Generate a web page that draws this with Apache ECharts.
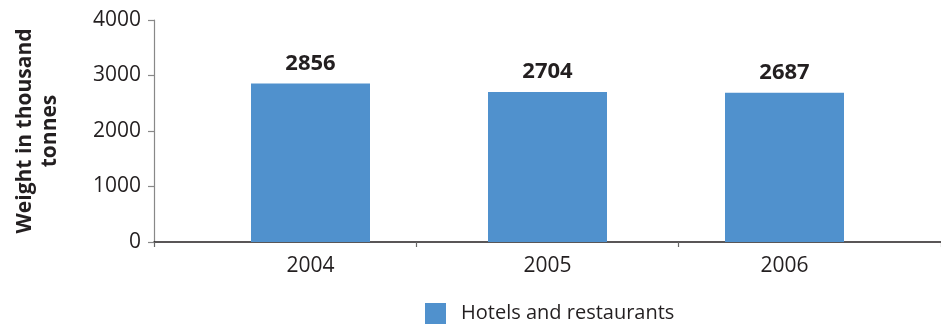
<!DOCTYPE html>
<html>
<head>
<meta charset="utf-8">
<script src="https://cdn.jsdelivr.net/npm/echarts@6/dist/echarts.min.js"></script>
<style>
  html, body { margin: 0; padding: 0; background: #fff; }
  #chart { width: 941px; height: 325px; }
</style>
</head>
<body>
<div id="chart"></div>
<script>
// Waste from hotels and restaurants, thousand tonnes
const years = ['2004', '2005', '2006'];
const hotelsAndRestaurants = [2856, 2704, 2687];
const yTicks = { min: 0, max: 4000, interval: 1000 };
const seriesName = 'Hotels and restaurants';
const axisTitle = 'Weight in thousand\ntonnes';

const FONT = '"Open Sans", "Noto Sans", sans-serif';
const TEXT = '#231f20';
const BAR = '#5091cd';

const chart = echarts.init(document.getElementById('chart'), null, { renderer: 'canvas' });

chart.setOption({
  animation: false,
  textStyle: { fontFamily: FONT },
  grid: [
    // frame grid: axis lines, ticks and value labels
    { left: 154, right: 0, top: 20, bottom: 83, containLabel: false, outerBoundsMode: 'none' },
    // bar grid: columns and year labels
    { left: 192, right: 38, top: 20, bottom: 83, containLabel: false, outerBoundsMode: 'none' }
  ],
  xAxis: [
    {
      type: 'category', gridIndex: 0, data: years,
      boundaryGap: true,
      axisLine: { lineStyle: { color: '#231f20', width: 1.5 } },
      axisTick: { show: true, length: 5, lineStyle: { color: '#666', width: 1.2 } },
      axisLabel: { show: false }
    },
    {
      type: 'category', gridIndex: 1, data: years,
      axisLine: { show: false },
      axisTick: { show: false },
      axisLabel: { color: TEXT, fontSize: 21, margin: 14, fontFamily: FONT }
    }
  ],
  yAxis: [
    {
      type: 'value', gridIndex: 0,
      min: yTicks.min, max: yTicks.max, interval: yTicks.interval,
      name: axisTitle,
      nameLocation: 'middle',
      nameRotate: 90,
      nameGap: 91,
      nameTextStyle: { color: TEXT, fontSize: 21, fontWeight: 'bold', lineHeight: 25, fontFamily: FONT },
      axisLine: { show: true, lineStyle: { color: '#888', width: 1.2 } },
      axisTick: { show: true, length: 6, lineStyle: { color: '#888', width: 1.2 } },
      axisLabel: { color: TEXT, fontSize: 21, margin: 13, fontFamily: FONT, formatter: v => String(v) },
      splitLine: { show: false }
    },
    {
      type: 'value', gridIndex: 1,
      min: yTicks.min, max: yTicks.max, interval: yTicks.interval,
      show: false
    }
  ],
  legend: {
    data: [seriesName],
    left: 425, top: 303, padding: 0,
    itemWidth: 21, itemHeight: 21, itemGap: 10,
    icon: 'rect',
    textStyle: { color: TEXT, fontSize: 20, padding: [0, 0, 0, 10], fontFamily: FONT }
  },
  series: [
    {
      name: seriesName,
      type: 'bar',
      xAxisIndex: 1, yAxisIndex: 1,
      data: hotelsAndRestaurants,
      barWidth: 119,
      itemStyle: { color: BAR },
      label: {
        show: true, position: 'top', distance: 9,
        color: TEXT, fontSize: 22, fontWeight: 'bold', fontFamily: FONT
      }
    }
  ]
});
</script>
</body>
</html>
